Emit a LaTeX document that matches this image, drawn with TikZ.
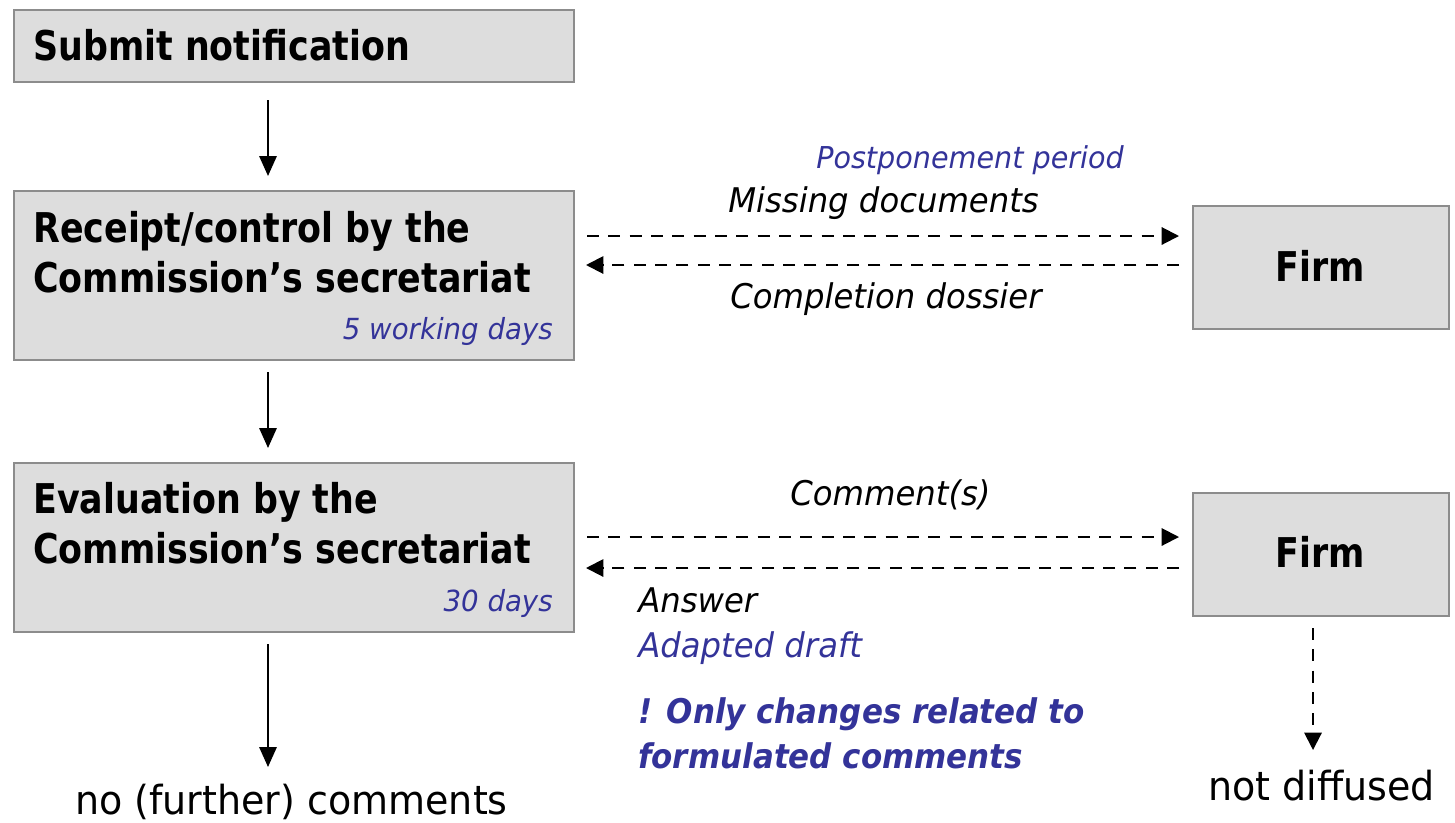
\documentclass[tikz,border=0pt]{standalone}
\usepackage{fontspec}
\setmainfont{DejaVu Sans}[FakeStretch=0.95, BoldFeatures={FakeStretch=0.85}, BoldItalicFeatures={FakeStretch=0.91}]
\usetikzlibrary{arrows.meta}
\definecolor{boxfill}{RGB}{221,221,221}
\definecolor{boxline}{RGB}{140,140,140}
\definecolor{navy}{RGB}{51,51,153}
\tikzset{
  stepbox/.style={draw=boxline, fill=boxfill, line width=1.2pt, inner sep=0pt, anchor=north west},
  boxtext/.style={font=\fontsize{30.75}{37.5}\selectfont\bfseries, anchor=base west, inner sep=0pt, align=left},
  lbl/.style={font=\fontsize{25.5}{30}\selectfont\itshape, anchor=base west, inner sep=0pt},
  bluelbl/.style={lbl, text=navy},
  smallblue/.style={bluelbl, anchor=base east, font=\fontsize{21.8}{26}\selectfont\itshape},
  endtext/.style={font=\fontsize{30}{36}\selectfont, anchor=base west, inner sep=0pt},
  solidarrow/.style={line width=1.6pt, -{Triangle[length=15pt,width=13pt]}},
  dasharrow/.style={line width=1.5pt, dash pattern=on 9pt off 7pt, -{Triangle[length=13pt,width=13pt]}},
}
\begin{document}
\begin{tikzpicture}[x=0.75pt,y=-0.75pt]
\useasboundingbox (0,0) rectangle (1455,822);
% boxes
\node[stepbox, minimum width=420pt, minimum height=54pt] (sub) at (13,9) {};
\node[stepbox, minimum width=420pt, minimum height=126.75pt] (rec) at (13,190) {};
\node[stepbox, minimum width=420pt, minimum height=126.75pt] (eva) at (13,462) {};
\node[stepbox, minimum width=192pt, minimum height=92.25pt] (firmA) at (1192,205) {};
\node[stepbox, minimum width=192pt, minimum height=92.25pt] (firmB) at (1192,492) {};
% box texts (anchor at baseline of last line)
\node[boxtext] (subT) at (33,60) {Submit notification};
\node[boxtext] (recT) at (33,292) {Receipt/control by the\\Commission’s secretariat};
\node[smallblue] (recD) at (553,339) {5 working days};
\node[boxtext] (evaT) at (33,563) {Evaluation by the\\Commission’s secretariat};
\node[smallblue] (evaD) at (553,611) {30 days};
\node[boxtext, anchor=base] (firmAT) at (1320,281) {Firm};
\node[boxtext, anchor=base] (firmBT) at (1320,567) {Firm};
% labels
\node[bluelbl, font=\fontsize{22.6}{26}\selectfont\itshape] (post) at (816,168) {Postponement period};
\node[lbl] (miss) at (728,212) {Missing documents};
\node[lbl] (compl) at (730,308) {Completion dossier};
\node[lbl] (comm) at (790,505) {Comment(s)};
\node[lbl] (ans) at (638,612) {Answer};
\node[bluelbl] (adapt) at (638,657) {Adapted draft};
\node[bluelbl, font=\fontsize{25.5}{33.75}\selectfont\itshape\bfseries, align=left] (only) at (638,768) {! Only changes related to\\formulated comments};
\node[endtext] (nofur) at (75,814) {no (further) comments};
\node[endtext] (notdif) at (1208,800) {not diffused};
% connector points
\coordinate (a1s) at (268,100); \coordinate (a1e) at (268,176);
\coordinate (a2s) at (268,372); \coordinate (a2e) at (268,448);
\coordinate (a3s) at (268,644); \coordinate (a3e) at (268,767);
\coordinate (d1s) at (587,236); \coordinate (d1e) at (1179,236);
\coordinate (d2s) at (1179,265); \coordinate (d2e) at (586,265);
\coordinate (d3s) at (587,537); \coordinate (d3e) at (1179,537);
\coordinate (d4s) at (1179,568); \coordinate (d4e) at (586,568);
\coordinate (d5s) at (1313,628); \coordinate (d5e) at (1313,750);
\draw[solidarrow] (a1s) -- (a1e);
\draw[solidarrow] (a2s) -- (a2e);
\draw[solidarrow] (a3s) -- (a3e);
\draw[dasharrow] (d1s) -- (d1e);
\draw[dasharrow] (d2s) -- (d2e);
\draw[dasharrow] (d3s) -- (d3e);
\draw[dasharrow] (d4s) -- (d4e);
\draw[dasharrow] (d5s) -- (d5e);
\end{tikzpicture}
\end{document}
